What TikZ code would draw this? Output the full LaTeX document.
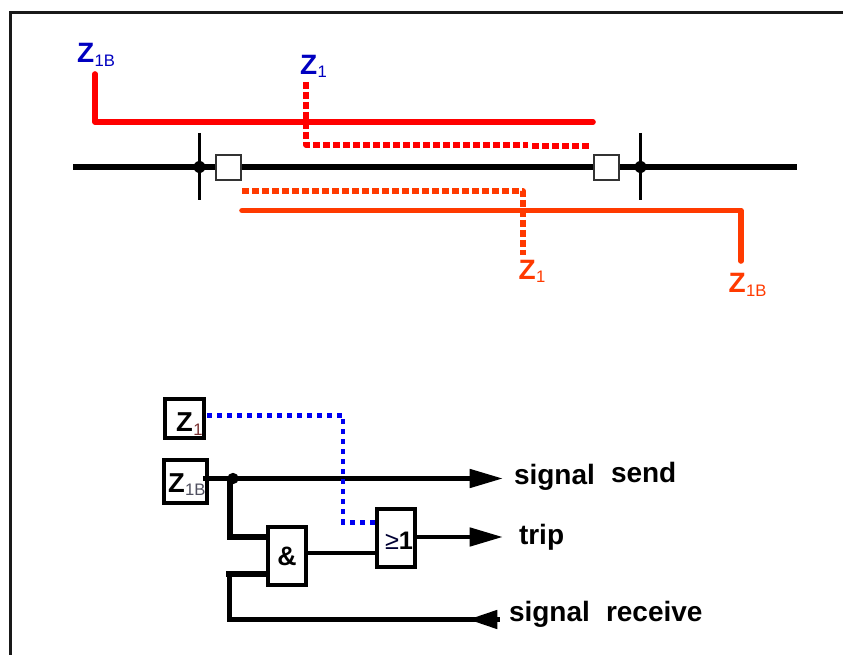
\documentclass[tikz,border=0pt]{standalone}
\usepackage{fontspec}
\setmainfont{Liberation Sans}
\usetikzlibrary{arrows.meta}
\definecolor{zblue}{HTML}{0000C0}
\definecolor{zred}{HTML}{FF0000}
\definecolor{zorange}{HTML}{FF3A00}
\definecolor{dotblue}{HTML}{0000F0}
\definecolor{subred}{HTML}{7A3030}
\definecolor{subgrey}{HTML}{505060}
\newcommand{\zsub}[2]{\smash{\raisebox{-2.6pt}{\fontsize{#2}{#2}\selectfont\kern0.3pt #1}}}
\newcommand{\zlabel}[2]{{\fontsize{21}{21}\selectfont\bfseries Z}\textcolor{#2}{\zsub{#1}{12.5}}}
\newcommand{\zbox}[3]{\smash{\raisebox{#3}{{\fontsize{20.5}{20.5}\selectfont\bfseries Z}\textcolor{#2}{\zsub{#1}{12.5}}}}}
\tikzset{
  x=0.75pt,y=-0.75pt,
  every node/.style={inner sep=0pt,outer sep=0pt},
  frameline/.style={line width=2.2pt,color=black!90},
  bus/.style={line width=3.9pt,black},
  tick/.style={line width=1.7pt,black},
  junction/.style={circle,fill=black,minimum size=#1},
  breaker/.style={draw=black!80,fill=white,line width=1.5pt,minimum size=18.5pt},
  solidzone/.style={line width=4.2pt,line cap=round,line join=round,color=#1},
  dashzone/.style={line width=4pt,dash pattern=on 5.4pt off 2.1pt,line join=round,color=#1},
  logicbox/.style={draw=black,fill=white,line width=3.4pt,text=black},
  wire/.style={line width=3.6pt,black},
  heavywire/.style={line width=3.8pt,black},
  dotted blue/.style={line width=3.4pt,dash pattern=on 3.4pt off 4.1pt,dotblue},
  tip/.style={-{Triangle[length=#1,width=13.5pt]}},
  lab/.style={anchor=base west,font=\fontsize{21}{21}\selectfont\bfseries}
}
\begin{document}
\begin{tikzpicture}
\useasboundingbox (0,0) rectangle (843,655);
\fill[white] (0,0) rectangle (843,655);
% frame
\coordinate (fa) at (10.5,655);
\coordinate (fb) at (10.5,12.5);
\coordinate (fc) at (843,12.5);
\draw[frameline] (fa) -- (fb) -- (fc);

% line diagram
\coordinate (busL) at (73,167);
\coordinate (busR) at (797,167);
\draw[bus] (busL) -- (busR);
\coordinate (t1a) at (199.5,133); \coordinate (t1b) at (199.5,200);
\coordinate (t2a) at (640.5,133); \coordinate (t2b) at (640.5,200);
\draw[tick] (t1a) -- (t1b);
\draw[tick,line width=2.2pt] (t2a) -- (t2b);
\node[junction=9pt] (j1) at (199.5,167) {};
\node[junction=9pt] (j2) at (640.5,167) {};
\node[breaker] (b1) at (228.5,167.5) {};
\node[breaker] (b2) at (606.5,167.5) {};

% zones
\coordinate (a1) at (95,74); \coordinate (a2) at (95,122); \coordinate (a3) at (593,122);
\draw[solidzone=zred] (a1) -- (a2) -- (a3);
\coordinate (c1) at (306,82); \coordinate (c2) at (306,145); \coordinate (c3) at (528,145);
\draw[dashzone=zred] (c1) -- (c2) -- (c3);
\coordinate (c4) at (532,146); \coordinate (c5) at (590,146);
\draw[dashzone=zred] (c4) -- (c5);
\coordinate (d1) at (242,191); \coordinate (d2) at (523,191); \coordinate (d3) at (523,255);
\draw[dashzone=zorange] (d1) -- (d2) -- (d3);
\coordinate (e1) at (242,210.5); \coordinate (e2) at (741,210.5); \coordinate (e3) at (741,261);
\draw[solidzone=zorange] (e1) -- (e2) -- (e3);

% zone labels
\node[anchor=base west,text=zblue] (lz1b) at (77,63) {\zlabel{1B}{zblue}};
\node[anchor=base west,text=zblue] (lz1) at (300,74.5) {\zlabel{1}{zblue}};
\node[anchor=base west,text=zorange] (rz1) at (518.5,279.5) {\zlabel{1}{zorange}};
\node[anchor=base west,text=zorange] (rz1b) at (728.5,293) {\zlabel{1B}{zorange}};

% logic boxes
\node[logicbox,minimum width=29pt,minimum height=29.5pt,text width=29pt,align=left] (bz1) at (184.5,418.5) {\hspace*{8.3pt}\zbox{1}{subred}{-10pt}};
\node[logicbox,minimum width=32.5pt,minimum height=32.5pt,text width=32.5pt,align=left] (bz1b) at (185.5,481.5) {\hspace*{3.2pt}\zbox{1B}{subgrey}{-8pt}};
\node[logicbox,minimum width=28.5pt,minimum height=43.5pt,font=\fontsize{20}{20}\selectfont\bfseries] (and) at (287,556) {\&};
\node[logicbox,minimum width=28.5pt,minimum height=43.5pt,text width=28.5pt,align=left] (or) at (396,538) {\hspace*{6pt}\smash{\raisebox{-9pt}{\fontsize{19}{19}\selectfont\textcolor{black!80!blue}{≥}\textbf{1}}}};

% wires
\coordinate (w1s) at (203,478.5);
\coordinate (w1e) at (503,478.5);
\coordinate (wj) at (233,478.5);
\draw[wire] (w1s) -- (wj);
\draw[wire,tip=25pt] (wj) -- (w1e);
\node[junction=8.5pt] (dot) at (wj) {};
\coordinate (w2a) at (230,478.5);
\coordinate (w2b) at (230,537);
\coordinate (andtop) at (and.west |- w2b);
\draw[heavywire] (w2a) -- (w2b) -- (andtop);
\coordinate (r0) at (226,574);
\coordinate (andlow) at (and.west |- r0);
\draw[line width=5pt] (r0) -- (andlow);
\coordinate (r1) at (229.5,574);
\coordinate (r2) at (229.5,619.5);
\coordinate (r3) at (500,619.5);
\draw[wire] (r1) -- (r2) -- (r3);
\coordinate (r4) at (497,619.5);
\coordinate (r5) at (468,619.5);
\draw[wire,tip=22pt] (r4) -- (r5);
\coordinate (m1) at (and.east |- 0,553);
\coordinate (m2) at (or.west |- 0,553);
\draw[wire] (m1) -- (m2);
\coordinate (o1) at (or.east |- 0,537);
\coordinate (o2) at (503,537);
\draw[wire,tip=25pt] (o1) -- (o2);

% blocking path
\coordinate (q1) at (207,415.5);
\coordinate (q2) at (343,415.5);
\coordinate (q3) at (343,522.5);
\coordinate (q4) at (or.west |- 0,522.5);
\draw[dotted blue] (q1) -- (q2) -- (q3) -- (q4);

% signal labels
\node[lab] (s1) at (514,485) {signal};
\node[lab] (s2) at (611,483) {send};
\node[lab] (s3) at (519,545) {trip};
\node[lab] (s4) at (509,622) {signal};
\node[lab] (s5) at (606,622) {receive};
\end{tikzpicture}
\end{document}
